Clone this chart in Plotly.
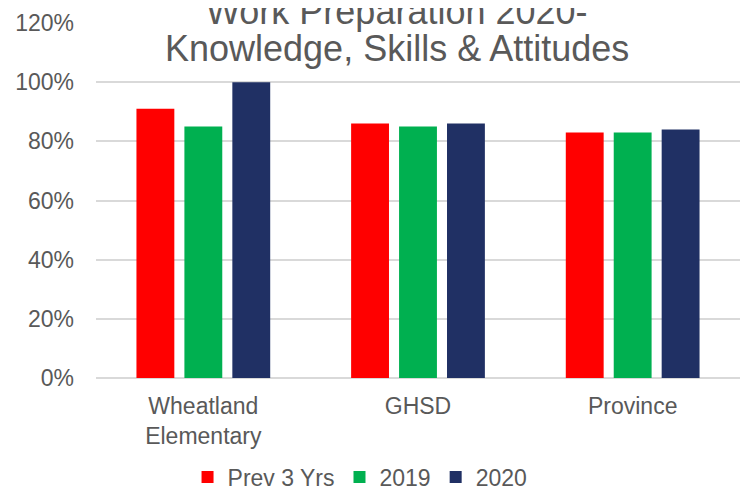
import plotly.graph_objects as go

categories = ["Wheatland<br>Elementary", "GHSD", "Province"]
prev3 = [0.91, 0.86, 0.83]
y2019 = [0.85, 0.85, 0.83]
y2020 = [1.00, 0.86, 0.84]
series_names = ["Prev 3 Yrs", "2019", "2020"]
colors = ["#FF0000", "#00B050", "#203064"]
tick_vals = [0, 0.2, 0.4, 0.6, 0.8, 1.0, 1.2]
tick_text = ["0%", "20%", "40%", "60%", "80%", "100%", "120%"]
title_lines = ["Work Preparation 2020-", "Knowledge, Skills & Attitudes"]

fig = go.Figure()
for name, vals, c in zip(series_names, [prev3, y2019, y2020], colors):
    fig.add_trace(go.Bar(x=categories, y=vals, name=name, marker_color=c,
                         marker_line_width=0))

gray = "#595959"
W, H = 741, 483
for txt, yy in zip(title_lines, [1.031, 0.927]):
    fig.add_annotation(text=txt, xref="paper", yref="paper", x=0.467, y=yy,
                       xanchor="center", yanchor="middle", showarrow=False,
                       font=dict(size=36, color=gray, family="Liberation Sans, Arial"))

fig.update_layout(
    width=W, height=H,
    margin=dict(l=88, r=9, t=15, b=113, autoexpand=False),
    paper_bgcolor="white", plot_bgcolor="white",
    font=dict(family="Liberation Sans, Arial", color=gray, size=23),
    barmode="group", bargap=0.33, bargroupgap=0.21,
    legend=dict(orientation="h", x=0.41, xanchor="center", y=-0.279, yanchor="middle",
                font=dict(size=23, color=gray), traceorder="normal"),
    xaxis=dict(showline=False, ticks="", tickfont=dict(size=23, color=gray),
               ticklabelstandoff=12),
    yaxis=dict(range=[0, 1.2], tickvals=tick_vals, ticktext=tick_text,
               showgrid=True, gridcolor="#D9D9D9", gridwidth=1.5,
               zeroline=True, zerolinecolor="#D9D9D9", zerolinewidth=1.5,
               tickfont=dict(size=23, color=gray), ticks="", ticklabelstandoff=21),
)
fig.write_html("out.html")
